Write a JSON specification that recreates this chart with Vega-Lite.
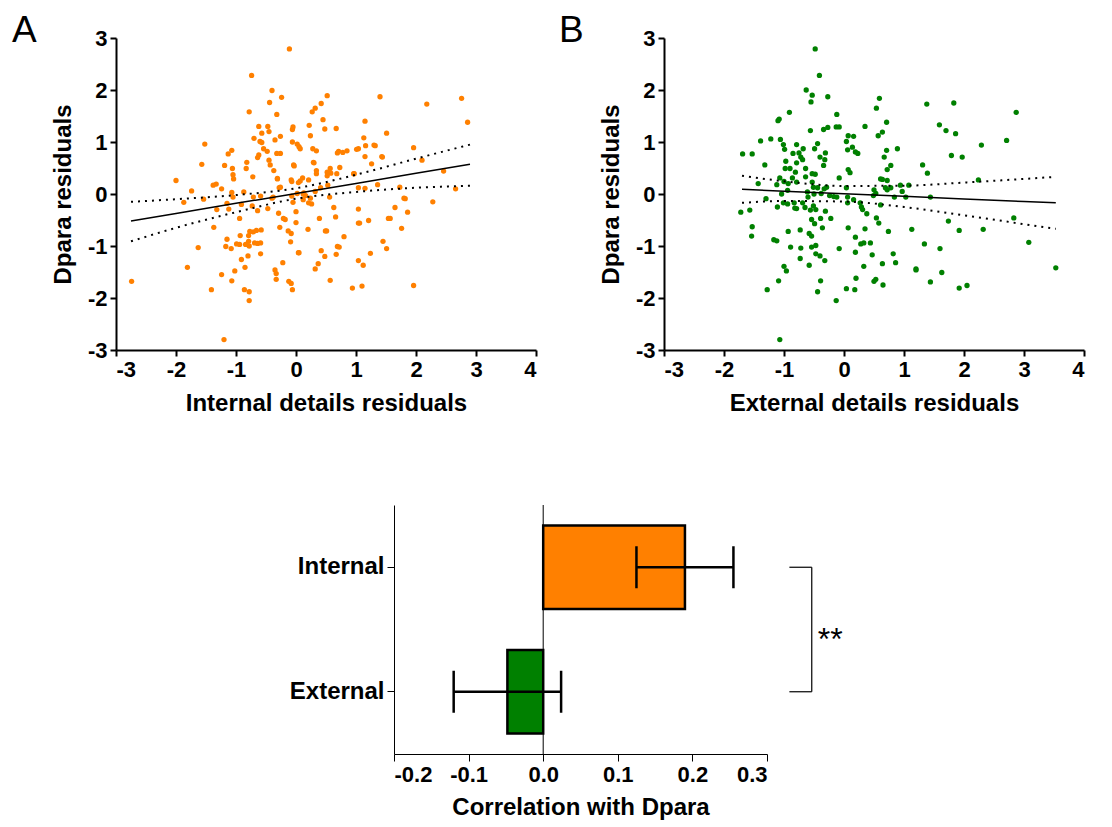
{
  "$schema": "https://vega.github.io/schema/vega-lite/v6.json",
  "background": "white",
  "padding": {"left": 12, "top": 12, "right": 5, "bottom": 5},
  "config": {
    "view": {"stroke": null},
    "font": "Liberation Sans",
    "axis": {
      "grid": false, "labelOverlap": false,
      "labelFont": "Liberation Sans", "labelFontWeight": "bold", "labelFontSize": 22, "labelColor": "black",
      "titleFont": "Liberation Sans", "titleFontWeight": "bold", "titleFontSize": 24, "titleColor": "black",
      "domainColor": "black", "domainWidth": 2, "tickColor": "black", "tickWidth": 2, "tickSize": 6, "labelPadding": 3
    }
  },
  "datasets": {
    "A": [
      {"x":-0.11,"y":2.79},{"x":-0.74,"y":2.28},{"x":-0.40,"y":1.99},{"x":-0.24,"y":1.86},{"x":0.52,"y":1.89},{"x":-0.44,"y":1.76},{"x":0.42,"y":1.74},{"x":1.40,"y":1.87},{"x":2.18,"y":1.73},{"x":2.76,"y":1.84},{"x":2.86,"y":1.38},{"x":-0.78,"y":1.58},{"x":-0.32,"y":1.53},{"x":0.27,"y":1.58},{"x":0.32,"y":1.65},{"x":0.45,"y":1.43},{"x":-0.62,"y":1.30},{"x":-0.47,"y":1.30},{"x":-0.45,"y":1.20},{"x":-0.06,"y":1.24},{"x":-0.05,"y":1.29},{"x":0.22,"y":1.32},{"x":0.48,"y":1.25},{"x":0.67,"y":1.26},{"x":1.15,"y":1.40},{"x":1.51,"y":1.17},{"x":-0.57,"y":1.17},{"x":-0.26,"y":1.11},{"x":0.24,"y":1.12},{"x":1.13,"y":1.08},{"x":1.30,"y":0.94},{"x":1.16,"y":0.93},{"x":-1.52,"y":0.96},{"x":-0.70,"y":1.07},{"x":-0.57,"y":0.99},{"x":-0.35,"y":1.04},{"x":-0.06,"y":1.00},{"x":0.05,"y":0.91},{"x":-1.07,"y":0.84},{"x":-1.13,"y":0.77},{"x":-0.54,"y":0.87},{"x":-0.48,"y":0.82},{"x":-0.62,"y":0.75},{"x":-0.32,"y":0.78},{"x":-0.26,"y":0.78},{"x":0.28,"y":0.87},{"x":0.34,"y":0.83},{"x":0.71,"y":0.82},{"x":0.78,"y":0.80},{"x":0.85,"y":0.83},{"x":1.04,"y":0.87},{"x":1.15,"y":0.72},{"x":1.43,"y":0.72},{"x":1.96,"y":0.89},{"x":2.10,"y":0.65},{"x":-0.64,"y":0.70},{"x":-0.45,"y":0.65},{"x":-0.82,"y":0.61},{"x":0.29,"y":0.61},{"x":-0.04,"y":0.56},{"x":-1.57,"y":0.57},{"x":-1.19,"y":0.55},{"x":-1.06,"y":0.49},{"x":0.57,"y":0.49},{"x":0.73,"y":0.51},{"x":0.34,"y":0.45},{"x":0.97,"y":0.39},{"x":1.26,"y":0.58},{"x":-1.05,"y":0.37},{"x":-0.72,"y":0.33},{"x":-0.08,"y":0.27},{"x":-0.31,"y":0.30},{"x":0.07,"y":0.25},{"x":0.21,"y":0.27},{"x":0.52,"y":0.35},{"x":0.58,"y":0.40},{"x":-2.00,"y":0.26},{"x":-1.33,"y":0.19},{"x":-1.38,"y":0.17},{"x":-1.24,"y":0.10},{"x":-1.74,"y":0.06},{"x":-1.07,"y":0.03},{"x":-0.87,"y":0.04},{"x":-0.26,"y":0.13},{"x":0.53,"y":0.17},{"x":1.15,"y":0.11},{"x":1.04,"y":0.12},{"x":1.73,"y":0.13},{"x":2.66,"y":0.10},{"x":-1.87,"y":-0.16},{"x":-1.54,"y":-0.10},{"x":-1.05,"y":-0.06},{"x":-0.71,"y":-0.06},{"x":-0.59,"y":-0.04},{"x":-0.40,"y":-0.08},{"x":-0.38,"y":-0.06},{"x":-0.07,"y":-0.04},{"x":0.02,"y":0.01},{"x":0.13,"y":0.02},{"x":0.16,"y":-0.03},{"x":0.24,"y":-0.08},{"x":0.21,"y":-0.17},{"x":0.12,"y":-0.11},{"x":0.26,"y":-0.19},{"x":-0.05,"y":-0.16},{"x":-1.15,"y":-0.18},{"x":-0.91,"y":-0.20},{"x":-0.73,"y":-0.23},{"x":-0.47,"y":-0.28},{"x":-1.32,"y":-0.30},{"x":-1.12,"y":-0.29},{"x":-0.64,"y":-0.32},{"x":1.80,"y":-0.08},{"x":2.28,"y":-0.15},{"x":2.46,"y":0.44},{"x":1.65,"y":-0.26},{"x":1.04,"y":-0.29},{"x":-0.29,"y":-0.37},{"x":0.00,"y":-0.34},{"x":-0.94,"y":-0.47},{"x":-0.21,"y":-0.47},{"x":0.39,"y":-0.47},{"x":0.66,"y":-0.44},{"x":0.00,"y":-0.55},{"x":1.54,"y":-0.47},{"x":1.21,"y":-0.51},{"x":1.04,"y":-0.56},{"x":-1.37,"y":-0.64},{"x":-0.27,"y":-0.64},{"x":0.20,"y":-0.68},{"x":0.51,"y":-0.71},{"x":-0.13,"y":-0.71},{"x":1.76,"y":-0.66},{"x":1.86,"y":-0.35},{"x":-0.58,"y":-0.69},{"x":-0.71,"y":-0.73},{"x":-0.79,"y":-0.80},{"x":-0.93,"y":-0.80},{"x":-0.08,"y":-0.76},{"x":0.80,"y":-0.82},{"x":-1.15,"y":-0.87},{"x":1.45,"y":-0.91},{"x":-0.79,"y":-0.91},{"x":-0.69,"y":-0.94},{"x":-0.59,"y":-0.94},{"x":-0.84,"y":-0.97},{"x":-0.94,"y":-0.97},{"x":-0.09,"y":-0.92},{"x":-1.17,"y":-1.01},{"x":-1.63,"y":-1.03},{"x":-1.08,"y":-1.05},{"x":0.69,"y":-1.01},{"x":1.51,"y":-1.05},{"x":0.42,"y":-1.09},{"x":0.04,"y":-1.13},{"x":-0.59,"y":-1.15},{"x":0.48,"y":-1.20},{"x":1.24,"y":-1.14},{"x":0.67,"y":-1.16},{"x":-0.91,"y":-1.26},{"x":-0.80,"y":-1.19},{"x":-0.22,"y":-1.32},{"x":0.37,"y":-1.34},{"x":1.04,"y":-1.28},{"x":1.12,"y":-1.37},{"x":-0.85,"y":-1.41},{"x":-1.81,"y":-1.41},{"x":0.32,"y":-1.44},{"x":-1.02,"y":-1.48},{"x":-0.35,"y":-1.46},{"x":-0.33,"y":-1.53},{"x":-1.24,"y":-1.55},{"x":-0.33,"y":-1.64},{"x":-1.07,"y":-1.67},{"x":-0.12,"y":-1.68},{"x":0.57,"y":-1.66},{"x":-2.74,"y":-1.68},{"x":-0.08,"y":-1.72},{"x":1.10,"y":-1.77},{"x":0.94,"y":-1.81},{"x":1.96,"y":-1.76},{"x":-0.86,"y":-1.84},{"x":-0.06,"y":-1.84},{"x":-1.41,"y":-1.84},{"x":-0.78,"y":-1.88},{"x":-0.78,"y":-2.05},{"x":-1.20,"y":-2.80},
      {"x":0.12,"y":0.00},{"x":0.32,"y":0.05},{"x":0.41,"y":0.12},{"x":0.68,"y":0.39},{"x":0.96,"y":0.39},{"x":1.36,"y":0.18},{"x":1.82,"y":-0.09},{"x":0.63,"y":-0.26},{"x":0.56,"y":-0.06},{"x":-0.18,"y":-0.49},{"x":1.57,"y":-0.47},{"x":0.72,"y":-1.02},
      {"x":-0.83,"y":0.49},{"x":-1.04,"y":0.29},{"x":-0.60,"y":1.01},{"x":-0.43,"y":0.56},{"x":-0.37,"y":0.45},{"x":-0.31,"y":0.29},{"x":-0.28,"y":0.12},{"x":0.02,"y":0.96},{"x":-0.03,"y":0.54},{"x":0.07,"y":0.87},{"x":0.30,"y":0.60},{"x":0.34,"y":0.39},{"x":0.11,"y":0.31},{"x":0.04,"y":0.22},{"x":-0.07,"y":0.24},{"x":0.52,"y":0.42},{"x":0.69,"y":0.79},{"x":1.01,"y":0.86},{"x":1.32,"y":0.93},{"x":1.44,"y":0.71},
      {"x":-0.77,"y":-0.72},{"x":-0.66,"y":-0.70},{"x":-0.78,"y":-1.00},{"x":-0.64,"y":-0.95},{"x":-0.99,"y":-0.96},{"x":0.49,"y":-0.71},{"x":1.06,"y":-0.56},{"x":0.05,"y":-1.13}
    ],
    "B": [
      {"x":-0.48,"y":2.79},{"x":-0.41,"y":2.28},{"x":-0.63,"y":2.00},{"x":-0.53,"y":1.90},{"x":-0.27,"y":1.87},{"x":-0.55,"y":1.77},{"x":0.59,"y":1.84},{"x":1.38,"y":1.73},{"x":1.83,"y":1.75},{"x":2.87,"y":1.57},{"x":-0.91,"y":1.57},{"x":-0.12,"y":1.53},{"x":0.54,"y":1.65},{"x":-1.10,"y":1.41},{"x":-1.08,"y":1.44},{"x":0.71,"y":1.38},{"x":1.59,"y":1.33},{"x":-0.13,"y":1.29},{"x":-0.08,"y":1.29},{"x":0.35,"y":1.30},{"x":-0.27,"y":1.28},{"x":2.71,"y":1.03},{"x":2.29,"y":0.94},{"x":2.24,"y":0.27},{"x":2.32,"y":-0.68},{"x":2.83,"y":-0.46},{"x":3.08,"y":-0.93},{"x":3.53,"y":-1.42},{"x":-0.96,"y":-1.48},{"x":1.20,"y":-1.46},{"x":1.63,"y":-1.51},{"x":0.20,"y":-1.62},{"x":-1.09,"y":-1.67},{"x":-0.39,"y":-1.67},{"x":0.50,"y":-1.68},{"x":0.53,"y":-1.64},{"x":0.65,"y":-1.75},{"x":1.44,"y":-1.69},{"x":2.05,"y":-1.76},{"x":1.92,"y":-1.81},{"x":-1.28,"y":-1.84},{"x":0.04,"y":-1.82},{"x":0.18,"y":-1.84},{"x":-0.44,"y":-1.88},{"x":-0.13,"y":-2.05},{"x":-1.07,"y":-2.80},
      {"x":-1.69,"y":0.77},{"x":-1.53,"y":0.77},{"x":-1.39,"y":1.02},{"x":-1.22,"y":1.06},{"x":-1.06,"y":1.05},{"x":-1.01,"y":0.95},{"x":-0.99,"y":0.86},{"x":-0.79,"y":0.95},{"x":-0.85,"y":0.78},{"x":-0.75,"y":0.79},{"x":-0.68,"y":0.87},{"x":-0.72,"y":0.71},{"x":-0.69,"y":0.66},{"x":-0.44,"y":0.97},{"x":-0.49,"y":0.87},{"x":-0.31,"y":0.79},{"x":-0.40,"y":0.71},{"x":-0.32,"y":0.66},{"x":-0.34,"y":0.55},{"x":-0.56,"y":1.22},{"x":-0.34,"y":1.24},{"x":-1.32,"y":0.56},{"x":-0.97,"y":0.63},{"x":-0.98,"y":0.49},{"x":-0.79,"y":0.60},{"x":-0.90,"y":0.49},{"x":-0.81,"y":0.42},{"x":-0.64,"y":0.49},{"x":-0.53,"y":0.39},{"x":-0.48,"y":0.38},{"x":-0.64,"y":0.33},{"x":-0.79,"y":0.23},{"x":-0.86,"y":0.31},{"x":-1.00,"y":0.24},{"x":-1.07,"y":0.31},{"x":-1.12,"y":0.18},{"x":-0.93,"y":0.20},{"x":-1.43,"y":0.20},{"x":-0.53,"y":0.23},{"x":-0.51,"y":0.13},{"x":-0.61,"y":0.04},{"x":-0.44,"y":0.12},{"x":-0.33,"y":0.10},{"x":-0.29,"y":0.13},{"x":-0.38,"y":0.01},{"x":-0.50,"y":0.00},{"x":-1.04,"y":0.00},{"x":-0.94,"y":0.07},{"x":-0.60,"y":-0.06},{"x":-0.08,"y":0.31},{"x":0.04,"y":0.12},{"x":-0.17,"y":-0.05},{"x":-0.24,"y":-0.03},{"x":-0.12,"y":-0.06},{"x":0.07,"y":0.47},{"x":0.10,"y":0.41},{"x":0.06,"y":0.85},{"x":0.14,"y":0.90},{"x":0.16,"y":1.11},{"x":0.07,"y":1.12},{"x":0.04,"y":1.01},{"x":0.19,"y":0.81},{"x":0.23,"y":0.78},{"x":0.06,"y":-0.06},{"x":0.16,"y":-0.11},{"x":0.27,"y":-0.17},{"x":0.29,"y":-0.25},{"x":0.31,"y":-0.30},{"x":0.38,"y":-0.38},{"x":0.06,"y":-0.17},{"x":0.50,"y":0.08},{"x":0.53,"y":0.01},{"x":0.49,"y":-0.03},{"x":0.61,"y":0.29},{"x":0.64,"y":0.28},{"x":0.72,"y":0.26},{"x":0.61,"y":-0.21},{"x":0.54,"y":-0.46},{"x":0.58,"y":-0.56},{"x":0.69,"y":0.12},{"x":0.72,"y":0.08},{"x":0.78,"y":0.12},{"x":0.94,"y":0.17},{"x":0.97,"y":0.05},{"x":1.03,"y":-0.06},{"x":1.08,"y":0.17},{"x":0.84,"y":-0.06},{"x":0.57,"y":1.12},{"x":0.64,"y":1.19},{"x":0.71,"y":0.84},{"x":0.67,"y":0.71},{"x":0.78,"y":0.55},{"x":0.72,"y":0.47},{"x":0.89,"y":0.87},{"x":1.31,"y":0.56},{"x":1.39,"y":0.40},{"x":1.44,"y":-0.06},{"x":1.79,"y":0.74},{"x":1.70,"y":1.22},{"x":1.86,"y":1.16},{"x":1.97,"y":0.71},{"x":1.74,"y":-0.52},{"x":1.92,"y":-0.70},{"x":1.13,"y":-0.68},{"x":1.34,"y":-0.96},{"x":1.60,"y":-1.05},{"x":0.74,"y":-0.72},{"x":-1.72,"y":-0.35},{"x":-1.57,"y":-0.31},{"x":-1.53,"y":-0.63},{"x":-1.54,"y":-0.81},{"x":-1.30,"y":-0.09},{"x":-1.11,"y":-0.25},{"x":-1.01,"y":-0.17},{"x":-0.94,"y":-0.19},{"x":-0.83,"y":-0.17},{"x":-0.82,"y":-0.27},{"x":-0.79,"y":-0.28},{"x":-0.69,"y":-0.17},{"x":-0.65,"y":-0.26},{"x":-0.56,"y":-0.31},{"x":-0.47,"y":-0.30},{"x":-0.51,"y":-0.23},{"x":-0.39,"y":-0.47},{"x":-0.31,"y":-0.33},{"x":-0.22,"y":-0.47},{"x":-0.54,"y":-0.49},{"x":-0.49,"y":-0.57},{"x":-0.73,"y":-0.69},{"x":-0.93,"y":-0.72},{"x":-0.58,"y":-0.76},{"x":-0.54,"y":-0.81},{"x":-0.36,"y":-0.65},{"x":0.07,"y":-0.65},{"x":0.35,"y":-0.67},{"x":0.19,"y":-0.83},{"x":0.28,"y":-0.96},{"x":0.33,"y":-0.94},{"x":0.44,"y":-0.94},{"x":-1.17,"y":-0.88},{"x":-1.12,"y":-0.90},{"x":-0.89,"y":-1.02},{"x":-0.72,"y":-1.04},{"x":-0.54,"y":-1.02},{"x":-0.47,"y":-0.99},{"x":-0.08,"y":-1.05},{"x":-0.47,"y":-1.15},{"x":-0.40,"y":-1.19},{"x":-0.32,"y":-1.28},{"x":-0.73,"y":-1.24},{"x":-1.00,"y":-1.39},{"x":-0.58,"y":-1.37},{"x":0.19,"y":-1.12},{"x":0.47,"y":-1.17},{"x":0.82,"y":-1.15},{"x":0.33,"y":-1.39},{"x":0.64,"y":-1.34},{"x":0.86,"y":-1.32},{"x":1.20,"y":-1.44}
    ],
    "fitA": [
      {"x":-2.75,"fit":-0.52,"lo":-0.91,"hi":-0.15},
      {"x":-2.0,"fit":-0.375,"lo":-0.65,"hi":-0.10},
      {"x":-1.0,"fit":-0.18,"lo":-0.35,"hi":-0.02},
      {"x":0.0,"fit":0.01,"lo":-0.09,"hi":0.11},
      {"x":1.0,"fit":0.20,"lo":0.04,"hi":0.37},
      {"x":2.0,"fit":0.40,"lo":0.12,"hi":0.68},
      {"x":2.9,"fit":0.57,"lo":0.16,"hi":0.95}
    ],
    "fitB": [
      {"x":-1.7,"fit":0.09,"lo":-0.17,"hi":0.35},
      {"x":-1.0,"fit":0.055,"lo":-0.135,"hi":0.245},
      {"x":0.0,"fit":0.005,"lo":-0.145,"hi":0.155},
      {"x":1.0,"fit":-0.044,"lo":-0.25,"hi":0.16},
      {"x":2.0,"fit":-0.094,"lo":-0.41,"hi":0.22},
      {"x":3.0,"fit":-0.144,"lo":-0.58,"hi":0.29},
      {"x":3.53,"fit":-0.17,"lo":-0.67,"hi":0.33}
    ],
    "corr": [
      {"group":"Internal","r":0.19,"lo":0.125,"hi":0.255},
      {"group":"External","r":-0.048,"lo":-0.12,"hi":0.024}
    ],
    "bracketH": [
      {"g":"Internal","x1":0.33,"x2":0.36},
      {"g":"External","x1":0.33,"x2":0.36}
    ],
    "bracketV": [
      {"g1":"Internal","g2":"External","x":0.36}
    ],
    "star": [
      {"g":"Internal","x":0.368,"t":"**"}
    ]
  },
  "spacing": 89,
  "vconcat": [
    {
      "spacing": 22,
      "hconcat": [
        {
          "width": 420, "height": 312,
          "title": {"text": "A", "anchor": "start", "frame": "group", "dx": -104, "dy": 52, "offset": 0, "baseline": "alphabetic", "fontSize": 37, "fontWeight": "normal", "font": "Liberation Sans", "color": "black"},
          "layer": [
            {
              "data": {"name": "A"},
              "mark": {"type": "circle", "size": 28, "opacity": 1, "color": "#FF8000"},
              "encoding": {
                "x": {"field": "x", "type": "quantitative", "scale": {"domain": [-3, 4], "nice": false}, "axis": {"title": "Internal details residuals", "values": [-3,-2,-1,0,1,2,3,4], "labelExpr": "datum.value < 0 ? '-' + format(-datum.value, 'd') : format(datum.value, 'd')", "titlePadding": 11}},
                "y": {"field": "y", "type": "quantitative", "scale": {"domain": [-3, 3], "nice": false}, "axis": {"title": "Dpara residuals", "values": [-3,-2,-1,0,1,2,3], "labelExpr": "datum.value < 0 ? '-' + format(-datum.value, 'd') : format(datum.value, 'd')", "titlePadding": 12}}
              }
            },
            {
              "data": {"name": "fitA"},
              "mark": {"type": "line", "color": "black", "strokeWidth": 1.5},
              "encoding": {"x": {"field": "x", "type": "quantitative"}, "y": {"field": "fit", "type": "quantitative"}}
            },
            {
              "data": {"name": "fitA"},
              "mark": {"type": "line", "color": "black", "strokeWidth": 2, "strokeDash": [2, 5], "interpolate": "monotone"},
              "encoding": {"x": {"field": "x", "type": "quantitative"}, "y": {"field": "lo", "type": "quantitative"}}
            },
            {
              "data": {"name": "fitA"},
              "mark": {"type": "line", "color": "black", "strokeWidth": 2, "strokeDash": [2, 5], "interpolate": "monotone"},
              "encoding": {"x": {"field": "x", "type": "quantitative"}, "y": {"field": "hi", "type": "quantitative"}}
            }
          ]
        },
        {
          "width": 420, "height": 312,
          "title": {"text": "B", "anchor": "start", "frame": "group", "dx": -105, "dy": 52, "offset": 0, "baseline": "alphabetic", "fontSize": 37, "fontWeight": "normal", "font": "Liberation Sans", "color": "black"},
          "layer": [
            {
              "data": {"name": "B"},
              "mark": {"type": "circle", "size": 28, "opacity": 1, "color": "#008000"},
              "encoding": {
                "x": {"field": "x", "type": "quantitative", "scale": {"domain": [-3, 4], "nice": false}, "axis": {"title": "External details residuals", "values": [-3,-2,-1,0,1,2,3,4], "labelExpr": "datum.value < 0 ? '-' + format(-datum.value, 'd') : format(datum.value, 'd')", "titlePadding": 11}},
                "y": {"field": "y", "type": "quantitative", "scale": {"domain": [-3, 3], "nice": false}, "axis": {"title": "Dpara residuals", "values": [-3,-2,-1,0,1,2,3], "labelExpr": "datum.value < 0 ? '-' + format(-datum.value, 'd') : format(datum.value, 'd')", "titlePadding": 12}}
              }
            },
            {
              "data": {"name": "fitB"},
              "mark": {"type": "line", "color": "black", "strokeWidth": 1.5},
              "encoding": {"x": {"field": "x", "type": "quantitative"}, "y": {"field": "fit", "type": "quantitative"}}
            },
            {
              "data": {"name": "fitB"},
              "mark": {"type": "line", "color": "black", "strokeWidth": 2, "strokeDash": [2, 5], "interpolate": "monotone"},
              "encoding": {"x": {"field": "x", "type": "quantitative"}, "y": {"field": "lo", "type": "quantitative"}}
            },
            {
              "data": {"name": "fitB"},
              "mark": {"type": "line", "color": "black", "strokeWidth": 2, "strokeDash": [2, 5], "interpolate": "monotone"},
              "encoding": {"x": {"field": "x", "type": "quantitative"}, "y": {"field": "hi", "type": "quantitative"}}
            }
          ]
        }
      ]
    },
    {
      "spacing": 0,
      "hconcat": [
        {"width": 173, "height": 1, "data": {"values": []}, "mark": "point"},
        {
          "width": 373, "height": 249,
          "encoding": {
            "y": {"type": "nominal", "sort": ["Internal", "External"], "scale": {"domain": ["Internal", "External"], "paddingInner": 0.33, "paddingOuter": 0.165}, "axis": {"title": null, "labelFontSize": 24, "domainWidth": 1, "tickWidth": 1, "tickSize": 7, "labelPadding": 3}},
            "x": {"type": "quantitative", "scale": {"domain": [-0.2, 0.3], "nice": false}, "axis": {"title": "Correlation with Dpara", "values": [-0.2, -0.1, 0, 0.1, 0.2, 0.3], "labelExpr": "datum.value < 0 ? '-' + format(-datum.value, '.1f') : format(datum.value, '.1f')", "domainWidth": 1, "tickWidth": 1, "tickSize": 7, "titlePadding": 10}}
          },
          "layer": [
            {
              "data": {"name": "corr"},
              "mark": {"type": "bar", "stroke": "black", "strokeWidth": 2.5},
              "encoding": {
                "y": {"field": "group"},
                "x": {"field": "r"},
                "color": {"field": "group", "type": "nominal", "scale": {"domain": ["Internal", "External"], "range": ["#FF8000", "#008000"]}, "legend": null}
              }
            },
            {
              "data": {"values": [{"z": 0}]},
              "mark": {"type": "rule", "color": "black", "strokeWidth": 1},
              "encoding": {"x": {"field": "z"}}
            },
            {
              "data": {"name": "corr"},
              "mark": {"type": "rule", "color": "black", "strokeWidth": 2.5},
              "encoding": {"y": {"field": "group"}, "x": {"field": "lo"}, "x2": {"field": "hi"}}
            },
            {
              "data": {"name": "corr"},
              "mark": {"type": "tick", "color": "black", "thickness": 2.5, "size": 42, "opacity": 1},
              "encoding": {"y": {"field": "group"}, "x": {"field": "lo"}}
            },
            {
              "data": {"name": "corr"},
              "mark": {"type": "tick", "color": "black", "thickness": 2.5, "size": 42, "opacity": 1},
              "encoding": {"y": {"field": "group"}, "x": {"field": "hi"}}
            },
            {
              "data": {"name": "bracketH"},
              "mark": {"type": "rule", "color": "black", "strokeWidth": 1.2},
              "encoding": {"y": {"field": "g"}, "x": {"field": "x1"}, "x2": {"field": "x2"}}
            },
            {
              "data": {"name": "bracketV"},
              "mark": {"type": "rule", "color": "black", "strokeWidth": 1.2},
              "encoding": {"y": {"field": "g1"}, "y2": {"field": "g2"}, "x": {"field": "x"}}
            },
            {
              "data": {"name": "star"},
              "mark": {"type": "text", "align": "left", "baseline": "middle", "fontSize": 32, "font": "Liberation Sans", "color": "black"},
              "encoding": {"y": {"field": "g", "bandPosition": 1.37}, "x": {"field": "x"}, "text": {"field": "t"}}
            }
          ]
        }
      ]
    }
  ]
}
